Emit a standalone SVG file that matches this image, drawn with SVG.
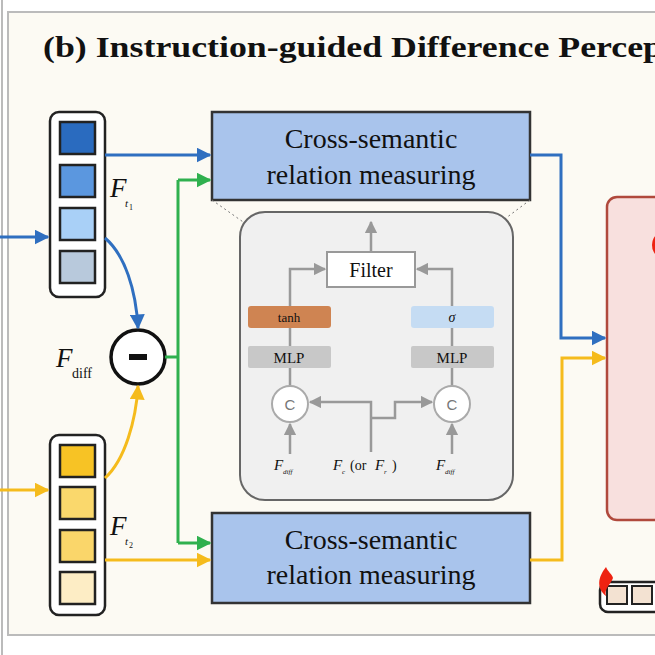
<svg xmlns="http://www.w3.org/2000/svg" width="655" height="655" viewBox="0 0 655 655">
<defs>
<style>
.sq{stroke:#222;stroke-width:2.5}
.t{font-family:"Liberation Serif",serif;fill:#111}
.g{fill:none;stroke:#999;stroke-width:2.5}
</style>
<marker id="ab" viewBox="0 0 10 10" refX="9" refY="5" markerWidth="5" markerHeight="5" orient="auto"><path d="M0,0L10,5L0,10z" fill="#2f6fc0"/></marker>
<marker id="ay" viewBox="0 0 10 10" refX="9" refY="5" markerWidth="5" markerHeight="5" orient="auto"><path d="M0,0L10,5L0,10z" fill="#f5bb1c"/></marker>
<marker id="ag" viewBox="0 0 10 10" refX="9" refY="5" markerWidth="5" markerHeight="5" orient="auto"><path d="M0,0L10,5L0,10z" fill="#2fb04e"/></marker>
<marker id="agr" viewBox="0 0 10 10" refX="9" refY="5" markerWidth="5" markerHeight="5" orient="auto"><path d="M0,0L10,5L0,10z" fill="#999"/></marker>
</defs>
<rect width="655" height="655" fill="#fff"/>
<line x1="2" y1="0" x2="2" y2="655" stroke="#bbb" stroke-width="2"/>
<rect x="8" y="12" width="660" height="623" fill="#fcfaf3" stroke="#bbb" stroke-width="2"/>
<text class="t" x="43" y="57" font-size="30" font-weight="bold" textLength="620" lengthAdjust="spacingAndGlyphs">(b) Instruction-guided Difference Percep</text>

<g id="pink"><rect x="607" y="197" width="100" height="323" rx="10" fill="#f8e0de" stroke="#b0493c" stroke-width="2.5"/>
<ellipse cx="658" cy="245" rx="6" ry="10" fill="#e21"/></g>
<g id="small"><rect x="600" y="582" width="80" height="30" rx="8" fill="#fff" stroke="#222" stroke-width="2.5"/>
<rect x="607" y="586" width="20" height="18" fill="#f3e2d2" stroke="#222" stroke-width="2"/>
<rect x="632" y="586" width="20" height="18" fill="#f3e2d2" stroke="#222" stroke-width="2"/>
<path d="M606,567 C598,577 596,588 606,596 C604,588 610,586 613,578 C612,574 608,572 606,567z" fill="#e21"/></g>

<g id="ft1"><rect x="50" y="112" width="55" height="185" rx="9" fill="#fff" stroke="#222" stroke-width="2.5"/>
<rect class="sq" x="60" y="122" width="35" height="32" fill="#2a6bbf"/>
<rect class="sq" x="60" y="165" width="35" height="32" fill="#5b97df"/>
<rect class="sq" x="60" y="208" width="35" height="32" fill="#a9d0f7"/>
<rect class="sq" x="60" y="251" width="35" height="32" fill="#b8c9dc"/>
<text class="t" x="110" y="197" font-size="27" font-style="italic">F</text><text class="t" x="125" y="207" font-size="11" font-style="italic">t</text><text class="t" x="129" y="210" font-size="8">1</text></g>
<g id="ft2"><rect x="50" y="435" width="55" height="180" rx="9" fill="#fff" stroke="#222" stroke-width="2.5"/>
<rect class="sq" x="60" y="445" width="35" height="32" fill="#f7c325"/>
<rect class="sq" x="60" y="487" width="35" height="32" fill="#fad86c"/>
<rect class="sq" x="60" y="530" width="35" height="32" fill="#fad66a"/>
<rect class="sq" x="60" y="572" width="35" height="32" fill="#fdedc5"/>
<text class="t" x="110" y="535" font-size="27" font-style="italic">F</text><text class="t" x="125" y="545" font-size="11" font-style="italic">t</text><text class="t" x="129" y="548" font-size="8">2</text></g>
<g id="diff"><circle cx="138" cy="357" r="27" fill="#fff" stroke="#111" stroke-width="3.5"/>
<rect x="129" y="354" width="18" height="6" fill="#111"/>
<text class="t" x="56" y="367" font-size="27" font-style="italic">F</text><text class="t" x="72" y="378" font-size="14">diff</text></g>

<g id="crossTop"><rect x="212" y="112" width="318" height="88" fill="#a9c4ec" stroke="#333" stroke-width="2.5"/>
<text class="t" x="371" y="148" font-size="28" text-anchor="middle">Cross-semantic</text>
<text class="t" x="371" y="184" font-size="28" text-anchor="middle">relation measuring</text></g>
<g id="crossBot"><rect x="212" y="513" width="318" height="90" fill="#a9c4ec" stroke="#333" stroke-width="2.5"/>
<text class="t" x="371" y="549" font-size="28" text-anchor="middle">Cross-semantic</text>
<text class="t" x="371" y="584" font-size="28" text-anchor="middle">relation measuring</text></g>

<g id="detail">
<line x1="212" y1="200" x2="246" y2="224" stroke="#777" stroke-dasharray="2,3"/>
<line x1="530" y1="200" x2="498" y2="224" stroke="#777" stroke-dasharray="2,3"/>
<rect x="240" y="212" width="273" height="288" rx="25" fill="#f0f0f0" stroke="#666" stroke-width="2"/>
<rect x="327" y="252" width="88" height="35" fill="#fff" stroke="#999" stroke-width="2"/>
<text class="t" x="371" y="277" font-size="20" text-anchor="middle">Filter</text>
<rect x="248" y="306" width="83" height="22" rx="3" fill="#cf8452"/>
<text class="t" x="289" y="322" font-size="13" text-anchor="middle">tanh</text>
<rect x="411" y="306" width="83" height="22" rx="3" fill="#c5dcf3"/>
<text class="t" x="452" y="322" font-size="14" font-style="italic" text-anchor="middle">σ</text>
<rect x="248" y="346" width="83" height="22" rx="2" fill="#c8c8c8"/>
<text class="t" x="289" y="363" font-size="15" text-anchor="middle">MLP</text>
<rect x="411" y="346" width="83" height="22" rx="2" fill="#c8c8c8"/>
<text class="t" x="452" y="363" font-size="15" text-anchor="middle">MLP</text>
<path class="g" d="M290,346V328M452,346V328M290,386V368M452,386V368"/>
<path class="g" d="M371,252V222" marker-end="url(#agr)"/>
<path class="g" d="M290,306V269H325" marker-end="url(#agr)"/>
<path class="g" d="M452,306V269H417" marker-end="url(#agr)"/>
<circle cx="290" cy="404" r="18" fill="#fff" stroke="#aaa" stroke-width="2"/>
<text x="290" y="410" font-family="Liberation Sans,sans-serif" font-size="15" fill="#777" text-anchor="middle">C</text>
<circle cx="452" cy="404" r="18" fill="#fff" stroke="#aaa" stroke-width="2"/>
<text x="452" y="410" font-family="Liberation Sans,sans-serif" font-size="15" fill="#777" text-anchor="middle">C</text>
<path class="g" d="M371,452V402H310" marker-end="url(#agr)"/>
<path class="g" d="M371,418H395V402H432" marker-end="url(#agr)"/>
<path class="g" d="M290,454V424" marker-end="url(#agr)"/>
<path class="g" d="M452,454V424" marker-end="url(#agr)"/>
<text class="t" x="274" y="470" font-size="15" font-style="italic">F</text><text class="t" x="283" y="474" font-size="7" font-style="italic">diff</text>
<text class="t" x="333" y="470" font-size="15" font-style="italic">F</text><text class="t" x="342" y="474" font-size="7" font-style="italic">c</text><text class="t" x="350" y="470" font-size="14">(or </text><text class="t" x="375" y="470" font-size="15" font-style="italic">F</text><text class="t" x="384" y="474" font-size="7" font-style="italic">r</text><text class="t" x="392" y="470" font-size="14">)</text>
<text class="t" x="436" y="470" font-size="15" font-style="italic">F</text><text class="t" x="445" y="474" font-size="7" font-style="italic">diff</text>
</g>

<g id="connectors" fill="none" stroke-width="3">
<path d="M0,237H48" stroke="#2f6fc0" marker-end="url(#ab)"/>
<path d="M105,155H210" stroke="#2f6fc0" marker-end="url(#ab)"/>
<path d="M105,238C125,255 136,290 138,328" stroke="#2f6fc0" marker-end="url(#ab)"/>
<path d="M530,155H561V338H605" stroke="#2f6fc0" marker-end="url(#ab)"/>
<path d="M0,490H48" stroke="#f5bb1c" marker-end="url(#ay)"/>
<path d="M105,478C125,460 136,420 138,386" stroke="#f5bb1c" marker-end="url(#ay)"/>
<path d="M105,560H210" stroke="#f5bb1c" marker-end="url(#ay)"/>
<path d="M530,560H562V358H605" stroke="#f5bb1c" marker-end="url(#ay)"/>
<path d="M165,357H178" stroke="#2fb04e"/>
<path d="M178,180V543" stroke="#2fb04e"/>
<path d="M178,180H210" stroke="#2fb04e" marker-end="url(#ag)"/>
<path d="M178,543H210" stroke="#2fb04e" marker-end="url(#ag)"/>
</g>
</svg>
